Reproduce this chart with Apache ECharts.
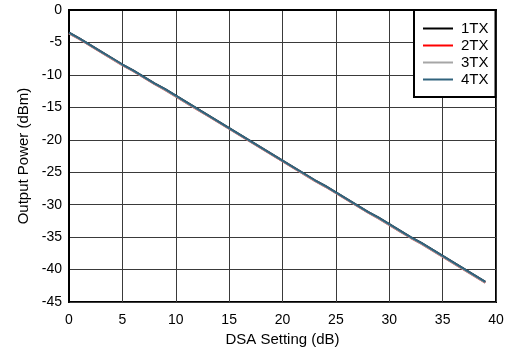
<!DOCTYPE html>
<html>
<head>
<meta charset="utf-8">
<script src="https://cdn.jsdelivr.net/npm/echarts@6/dist/echarts.min.js"></script>
<style>html,body{margin:0;padding:0;background:#fff;}#c{width:508px;height:350px;}</style>
</head>
<body>
<div id="c"></div>
<script>
const dsa = [0,1,2,3,4,5,6,7,8,9,10,11,12,13,14,15,16,17,18,19,20,21,22,23,24,25,26,27,28,29,30,31,32,33,34,35,36,37,38,39];
const tx1 = [-3.5,-4.4,-5.4,-6.4,-7.4,-8.4,-9.3,-10.3,-11.3,-12.2,-13.2,-14.2,-15.2,-16.2,-17.2,-18.2,-19.2,-20.2,-21.2,-22.2,-23.2,-24.2,-25.2,-26.2,-27.1,-28.1,-29.1,-30.1,-31.1,-32.0,-33.0,-34.0,-35.0,-35.9,-36.9,-37.9,-38.9,-39.9,-40.9,-41.9];
const tx2 = [-3.6,-4.5,-5.5,-6.5,-7.5,-8.5,-9.4,-10.4,-11.4,-12.3,-13.3,-14.3,-15.3,-16.3,-17.3,-18.3,-19.3,-20.3,-21.3,-22.3,-23.3,-24.3,-25.3,-26.3,-27.2,-28.2,-29.2,-30.2,-31.2,-32.1,-33.1,-34.1,-35.1,-36.0,-37.0,-38.0,-39.0,-40.0,-41.0,-42.0];
const tx3 = [-3.6,-4.5,-5.5,-6.5,-7.5,-8.5,-9.4,-10.4,-11.4,-12.3,-13.3,-14.3,-15.3,-16.3,-17.3,-18.3,-19.3,-20.3,-21.3,-22.3,-23.3,-24.3,-25.3,-26.3,-27.2,-28.2,-29.2,-30.2,-31.2,-32.1,-33.1,-34.1,-35.1,-36.0,-37.0,-38.0,-39.0,-40.0,-41.0,-42.0];
const tx4 = [-3.5,-4.4,-5.4,-6.4,-7.4,-8.4,-9.3,-10.3,-11.3,-12.2,-13.2,-14.2,-15.2,-16.2,-17.2,-18.2,-19.2,-20.2,-21.2,-22.2,-23.2,-24.2,-25.2,-26.2,-27.1,-28.1,-29.1,-30.1,-31.1,-32.0,-33.0,-34.0,-35.0,-35.9,-36.9,-37.9,-38.9,-39.9,-40.9,-41.9];
const seriesNames = ['1TX','2TX','3TX','4TX'];
const seriesColors = ['#000000','#ff0000','#a6a6a6','#31637d'];
const seriesData = [tx1, tx2, tx3, tx4];

const font = 'Liberation Sans, Arial, sans-serif';
const chart = echarts.init(document.getElementById('c'));
chart.setOption({
  animation: false,
  backgroundColor: '#fff',
  grid: {left: 69, right: 12, top: 10, bottom: 48, show: true, borderColor: '#000', borderWidth: 2, outerBoundsMode: 'none', containLabel: false},
  xAxis: {
    type: 'value', min: 0, max: 40, interval: 5,
    name: 'DSA Setting (dB)', nameLocation: 'middle', nameGap: 25,
    nameTextStyle: {fontFamily: font, fontSize: 15, color: '#000'},
    axisLine: {lineStyle: {color: '#000', width: 2}},
    axisTick: {show: false},
    axisLabel: {fontFamily: font, fontSize: 14, color: '#000', margin: 11},
    splitLine: {lineStyle: {color: '#3a3a3a', width: 1}}
  },
  yAxis: {
    type: 'value', min: -45, max: 0, interval: 5,
    name: 'Output Power (dBm)', nameLocation: 'middle', nameGap: 38,
    nameTextStyle: {fontFamily: font, fontSize: 15, color: '#000'},
    axisLine: {lineStyle: {color: '#000', width: 2}},
    axisTick: {show: false},
    axisLabel: {fontFamily: font, fontSize: 14, color: '#000', margin: 7},
    splitLine: {lineStyle: {color: '#3a3a3a', width: 1}}
  },
  legend: {
    orient: 'vertical', left: 414, top: 10,
    padding: [10, 7, 9, 9], itemGap: 0, itemWidth: 30, itemHeight: 2,
    icon: 'rect',
    backgroundColor: '#fff', borderColor: '#000', borderWidth: 2, borderRadius: 0,
    textStyle: {fontFamily: font, fontSize: 15, color: '#000', lineHeight: 17, padding: [0, 0, 0, 3]},
    data: seriesNames
  },
  series: seriesNames.map((n, i) => ({
    name: n, type: 'line', symbol: 'none', smooth: false,
    data: dsa.map((x, j) => [x, seriesData[i][j]]),
    lineStyle: {color: seriesColors[i], width: 2},
    itemStyle: {color: seriesColors[i]}
  }))
});
</script>
</body>
</html>
